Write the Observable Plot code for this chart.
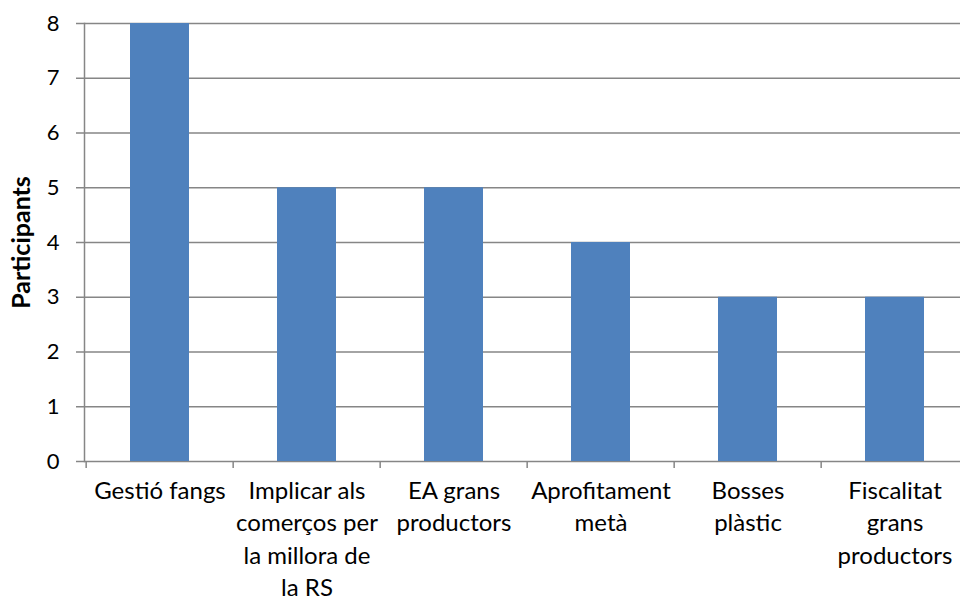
<!DOCTYPE html>
<html><head><meta charset="utf-8">
<script src="https://cdn.jsdelivr.net/npm/d3@7"></script>
<script src="https://cdn.jsdelivr.net/npm/@observablehq/plot@0.6"></script>
<style>
body{margin:0;background:#fff;overflow:hidden;}
#chart svg{font-family:Lato,"Open Sans",sans-serif;}
#chart g[aria-label="y-axis label"] text{font-weight:bold;font-size:25px;}
</style>
</head><body><div id="chart"></div>
<script>
const categories = ["Gestió fangs","Implicar als comerços per la millora de la RS","EA grans productors","Aprofitament metà","Bosses plàstic","Fiscalitat grans productors"];
const tickLabels = ["Gestió fangs","Implicar als\ncomerços per\nla millora de\nla RS","EA grans\nproductors","Aprofitament\nmetà","Bosses\nplàstic","Fiscalitat\ngrans\nproductors"];
const participants = [8,5,5,4,3,3];
const yTicks = [0,1,2,3,4,5,6,7,8];

const data = categories.map((c,i)=>({cat:c, value:participants[i], label:tickLabels[i]}));
const labelOf = new Map(data.map(d=>[d.cat,d.label]));
const xRange = [84, 970];
const step = (xRange[1]-xRange[0])/categories.length;

const chart = Plot.plot({
  width: 960, height: 602,
  marginLeft: 84, marginRight: 0, marginTop: 23, marginBottom: 141,
  x: {domain: categories, range: xRange, paddingInner: 0.6, paddingOuter: 0.3, label: null},
  y: {domain: [0,8]},
  style: {fontSize: "22px", color: "#000"},
  marks: [
    Plot.ruleY(yTicks, {stroke: "#868686", strokeWidth: 1.5}),
    Plot.barY(data, {x: "cat", y: "value", fill: "#4F81BD"}),
    Plot.ruleX(categories, {x: d=>d, dx: -step/2, y1: 0, y2: 0, insetBottom: -7, stroke: "#868686", strokeWidth: 1.5}),
    Plot.frame({anchor: "left", stroke: "#868686", strokeWidth: 1.5}),
    Plot.axisY({ticks: yTicks, tickSize: 8, tickPadding: 17, tickFormat: d=>String(d), stroke: "#868686", strokeWidth: 1.5, fontSize: 22,
      label: "Participants", labelAnchor: "center", labelArrow: "none", labelOffset: 72}),
    Plot.axisX({tickSize: 0, tickPadding: 15, tickFormat: d=>labelOf.get(d), lineHeight: 1.34, fontSize: 24, label: null})
  ]
});
document.getElementById("chart").append(chart);
</script></body></html>
